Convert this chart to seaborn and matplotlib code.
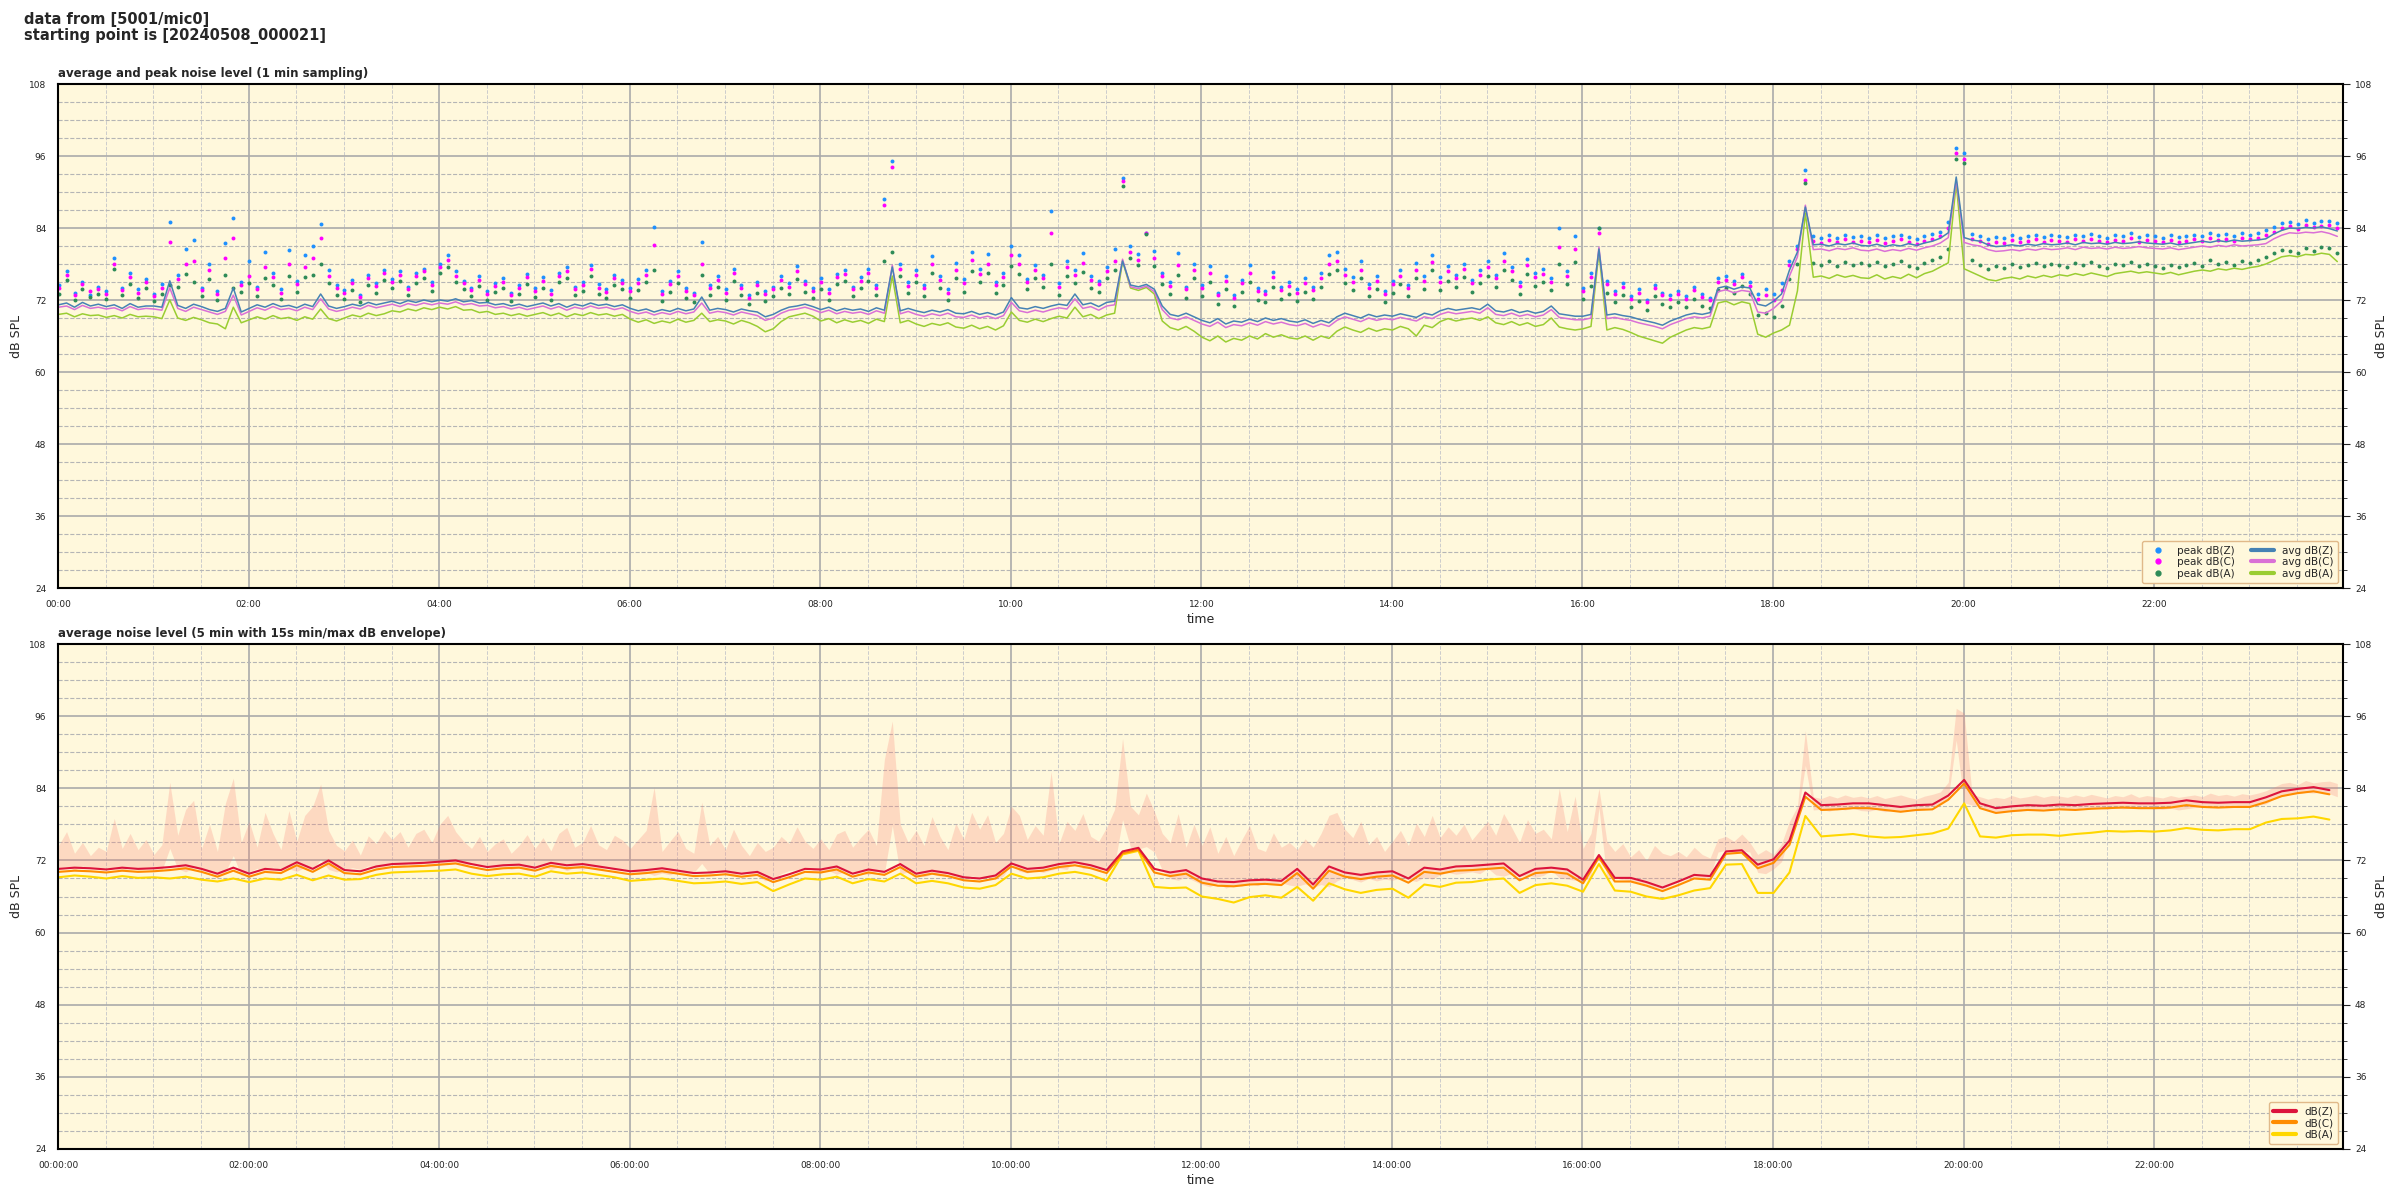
import pandas as pd
import matplotlib.pyplot as plt
import matplotlib.dates as mdates
from matplotlib.ticker import MultipleLocator
from matplotlib.lines import Line2D
import seaborn as sns

# --- 1 min chart, read every 5 minutes (12 values per hour) ---
avg_z = [
    71.2, 71.5, 70.8, 71.6, 71.0, 71.3, 70.9, 71.2, 70.6, 71.4, 70.8, 71.0,
    71.0, 70.8, 75.2, 71.1, 70.6, 71.3, 70.9, 70.4, 70.1, 70.6, 74.0, 70.0,
    70.6, 71.2, 70.8, 71.4, 70.9, 71.1, 70.7, 71.3, 70.9, 73.0, 71.0, 70.6,
    70.9, 71.3, 71.0, 71.6, 71.2, 71.5, 71.8, 71.4, 71.9, 71.6, 72.0, 71.7,
    72.0, 71.8, 72.2, 71.7, 71.9, 71.5, 71.6, 71.2, 71.4, 71.0, 71.3, 70.9,
    71.2, 71.5, 71.0, 71.4, 70.8, 71.3, 71.0, 71.5, 71.1, 71.3, 70.9, 71.2,
    70.6, 70.2, 70.5, 70.0, 70.4, 70.1, 70.6, 70.2, 70.5, 72.5, 70.3, 70.6,
    70.4, 70.0, 70.5, 70.2, 70.0, 69.2, 69.6, 70.3, 70.8, 71.0, 71.3, 70.9,
    70.4, 70.8, 70.2, 70.6, 70.3, 70.5, 70.1, 70.7, 70.3, 77.5, 70.2, 70.6,
    70.2, 69.9, 70.3, 70.0, 70.4, 69.8, 69.7, 70.1, 69.6, 69.9, 69.5, 70.0,
    72.4, 70.7, 70.5, 70.9, 70.6, 71.0, 71.3, 71.1, 73.0, 71.2, 71.5, 70.9,
    71.6, 71.8, 78.5, 74.5, 74.2, 74.6, 73.8, 71.0, 69.6, 69.3, 69.8, 69.2,
    68.6, 68.2, 68.9, 68.0, 68.5, 68.3, 68.8, 68.4, 69.0, 68.6, 68.9, 68.5,
    68.3, 68.7, 68.1, 68.6, 68.2, 69.2, 69.8, 69.4, 69.0, 69.6, 69.2, 69.5,
    69.3, 69.7, 69.4, 69.1, 69.8, 69.5, 70.2, 70.6, 70.3, 70.5, 70.7, 70.4,
    71.3, 70.2, 70.0, 70.4, 69.9, 70.2, 69.8, 70.1, 71.0, 69.7, 69.5, 69.3,
    69.3, 69.6, 80.5, 69.5, 69.7, 69.4, 69.2, 68.8, 68.5, 68.2, 67.8, 68.5,
    69.0, 69.5, 69.8, 69.6, 69.9, 74.0, 74.3, 73.8, 74.2, 74.0, 71.3, 71.0,
    71.8, 73.0, 77.0, 80.0, 87.5, 81.2, 81.3, 81.0, 81.4, 81.2, 81.5, 81.1,
    81.0, 81.3, 80.9, 81.2, 81.0, 81.4, 81.1, 81.5, 81.8, 82.3, 83.2, 92.5,
    82.4, 82.0, 81.8, 81.2, 80.9, 81.0, 81.2, 81.0, 81.3, 81.1, 81.4, 81.2,
    81.3, 81.5, 81.2, 81.6, 81.4, 81.5, 81.3, 81.6, 81.4, 81.5, 81.7, 81.5,
    81.4, 81.3, 81.5, 81.2, 81.4, 81.6, 81.8, 81.6, 81.9, 81.7, 82.0, 81.8,
    81.9, 82.0, 82.2, 83.0, 83.6, 84.0, 83.9, 84.1, 84.0, 84.2, 83.9, 83.5,
]
avg_c = [
    70.8, 71.0, 70.4, 71.1, 70.6, 70.8, 70.5, 70.7, 70.2, 70.9, 70.4, 70.6,
    70.5, 70.3, 74.0, 70.6, 70.1, 70.8, 70.4, 70.0, 69.6, 70.1, 72.8, 69.5,
    70.1, 70.7, 70.3, 70.9, 70.4, 70.6, 70.2, 70.8, 70.4, 72.2, 70.5, 70.1,
    70.4, 70.8, 70.5, 71.1, 70.7, 71.0, 71.3, 70.9, 71.4, 71.1, 71.5, 71.2,
    71.5, 71.3, 71.7, 71.2, 71.4, 71.0, 71.1, 70.7, 70.9, 70.5, 70.8, 70.4,
    70.7, 71.0, 70.5, 70.9, 70.3, 70.8, 70.5, 71.0, 70.6, 70.8, 70.4, 70.7,
    70.1, 69.7, 70.0, 69.5, 69.9, 69.6, 70.1, 69.7, 70.0, 71.5, 69.8, 70.1,
    69.9, 69.5, 70.0, 69.7, 69.4, 68.6, 69.0, 69.8, 70.3, 70.5, 70.8, 70.4,
    69.9, 70.3, 69.7, 70.1, 69.8, 70.0, 69.6, 70.2, 69.8, 77.8, 69.7, 70.1,
    69.6, 69.3, 69.7, 69.4, 69.8, 69.2, 69.1, 69.5, 69.0, 69.3, 68.9, 69.4,
    71.6, 70.2, 69.9, 70.3, 70.0, 70.4, 70.7, 70.5, 72.2, 70.6, 70.9, 70.3,
    71.0, 71.2, 78.8, 74.2, 73.9, 74.3, 73.4, 70.4, 69.0, 68.7, 69.2, 68.6,
    68.0, 67.6, 68.3, 67.4, 67.9, 67.7, 68.2, 67.8, 68.4, 68.0, 68.3, 67.9,
    67.7, 68.1, 67.5, 68.0, 67.6, 68.6, 69.2, 68.8, 68.4, 69.0, 68.6, 68.9,
    68.7, 69.1, 68.8, 68.5, 69.2, 68.9, 69.6, 70.0, 69.7, 69.9, 70.1, 69.8,
    70.7, 69.6, 69.4, 69.8, 69.3, 69.6, 69.2, 69.5, 70.4, 69.1, 68.9, 68.7,
    68.7, 69.0, 80.8, 68.9, 69.1, 68.8, 68.6, 68.2, 67.9, 67.6, 67.2, 67.9,
    68.4, 68.9, 69.2, 69.0, 69.3, 73.4, 73.7, 73.2, 73.6, 73.4, 70.0, 69.8,
    70.6, 71.8, 76.0, 79.2, 87.8, 80.4, 80.5, 80.2, 80.6, 80.4, 80.7, 80.3,
    80.2, 80.5, 80.1, 80.4, 80.2, 80.6, 80.3, 80.7, 81.0, 81.5, 82.4, 92.0,
    81.6, 81.2, 81.0, 80.4, 80.1, 80.2, 80.4, 80.2, 80.5, 80.3, 80.6, 80.4,
    80.5, 80.7, 80.4, 80.8, 80.6, 80.7, 80.5, 80.8, 80.6, 80.7, 80.9, 80.7,
    80.6, 80.5, 80.7, 80.4, 80.6, 80.8, 81.0, 80.8, 81.1, 80.9, 81.2, 81.0,
    81.1, 81.2, 81.4, 82.2, 82.8, 83.2, 83.1, 83.3, 83.2, 83.4, 83.1, 82.6,
]
avg_a = [
    69.6, 69.8, 69.2, 69.7, 69.4, 69.5, 69.1, 69.4, 69.0, 69.6, 69.2, 69.3,
    69.2, 68.9, 72.0, 69.0, 68.6, 69.1, 68.7, 68.2, 68.0, 67.2, 70.8, 68.2,
    68.7, 69.2, 68.8, 69.4, 68.9, 69.1, 68.6, 69.2, 68.8, 70.5, 68.9, 68.5,
    69.0, 69.5, 69.2, 69.8, 69.4, 69.7, 70.2, 70.0, 70.5, 70.2, 70.7, 70.4,
    70.8, 70.5, 70.9, 70.3, 70.4, 69.9, 70.1, 69.6, 69.8, 69.4, 69.7, 69.3,
    69.6, 69.9, 69.4, 69.8, 69.2, 69.7, 69.4, 69.9, 69.5, 69.7, 69.3, 69.6,
    68.8, 68.3, 68.7, 68.1, 68.5, 68.2, 68.8, 68.3, 68.6, 69.8, 68.4, 68.7,
    68.5, 68.0, 68.6, 68.2, 67.6, 66.7, 67.2, 68.4, 69.2, 69.5, 69.8, 69.3,
    68.5, 68.9, 68.2, 68.7, 68.3, 68.6, 68.1, 68.8, 68.4, 76.0, 68.2, 68.6,
    68.0, 67.6, 68.1, 67.8, 68.2, 67.5, 67.3, 67.8, 67.2, 67.6, 67.0, 67.7,
    70.0, 68.6, 68.3, 68.8, 68.4, 68.9, 69.3, 69.0, 70.8, 69.2, 69.6, 68.9,
    69.5, 69.8, 78.5, 74.0, 73.6, 74.1, 73.0, 68.5, 67.4, 67.0, 67.6, 66.8,
    65.8, 65.2, 66.0, 65.0, 65.6, 65.3, 66.0, 65.5, 66.4, 65.8, 66.2, 65.7,
    65.5, 66.0, 65.3, 66.0, 65.6, 66.8, 67.5, 67.0, 66.6, 67.3, 66.8, 67.2,
    67.0, 67.6, 67.2, 66.0, 67.8, 67.4, 68.4, 68.9, 68.5, 68.8, 69.0, 68.6,
    69.2, 68.2, 67.9, 68.4, 67.8, 68.2, 67.6, 67.9, 69.0, 67.5, 67.2, 67.0,
    67.2, 67.6, 80.0, 67.0, 67.4, 67.1, 66.6, 66.0, 65.6, 65.2, 64.8, 65.8,
    66.4, 67.0, 67.4, 67.2, 67.5, 71.5, 71.8, 71.2, 71.7, 71.4, 66.3, 65.8,
    66.5, 67.0, 67.8, 73.5, 86.5, 75.8, 76.0, 75.6, 76.2, 75.8, 76.1, 75.7,
    75.6, 76.2, 75.5, 75.9, 75.6, 76.3, 75.7, 76.4, 76.8, 77.5, 78.2, 91.5,
    77.2, 76.6, 76.0, 75.4, 75.2, 75.6, 75.8, 75.5, 76.0, 75.7, 76.1, 75.8,
    76.2, 76.0, 76.4, 76.1, 76.5, 76.2, 75.9, 76.4, 76.6, 76.8, 76.5, 76.7,
    76.5, 76.3, 76.6, 76.2, 76.5, 76.8, 77.0, 76.8, 77.2, 77.0, 77.3, 77.1,
    77.4, 77.6, 78.0, 78.6, 79.2, 79.4, 79.2, 79.6, 79.5, 79.8, 79.6, 78.4,
]
peak_z = [
    74.5, 76.8, 73.2, 75.0, 72.8, 74.2, 73.5, 79.0, 74.0, 76.5, 73.8, 75.5,
    73.0, 74.6, 85.0, 76.2, 80.5, 82.0, 74.0, 78.0, 73.5, 81.5, 85.7, 75.0,
    78.5, 74.2, 80.0, 76.5, 73.8, 80.3, 75.2, 79.5, 81.0, 84.7, 77.0, 74.5,
    73.6, 75.4, 72.9, 76.1, 74.8, 77.0, 75.5, 76.8, 74.2, 76.5, 77.2, 75.0,
    78.0, 79.5, 76.8, 75.2, 74.0, 76.0, 73.5, 74.8, 75.6, 73.2, 74.5, 76.3,
    74.0, 75.8, 73.6, 76.5, 77.5, 74.2, 75.0, 77.8, 74.6, 73.8, 76.2, 75.4,
    74.0, 75.5, 77.0, 84.2, 73.5, 75.2, 76.8, 74.0, 73.2, 81.7, 74.5, 76.0,
    73.8, 77.2, 74.5, 72.8, 75.0, 73.5, 74.2, 76.0, 74.8, 77.6, 75.2, 74.0,
    75.6, 73.8, 76.4, 77.0, 74.2, 75.8, 77.2, 74.5, 88.8, 95.2, 78.0, 75.0,
    77.0, 74.5, 79.3, 76.0, 73.8, 78.2, 75.5, 80.0, 77.2, 79.6, 75.0, 76.5,
    81.0, 79.5, 75.5, 77.8, 76.2, 86.8, 74.8, 78.5, 77.0, 79.8, 76.0, 75.2,
    77.5, 80.5, 92.3, 81.0, 79.6, 83.2, 80.2, 76.5, 75.0, 79.8, 74.2, 78.0,
    74.5, 77.6, 73.2, 76.0, 72.8, 75.4, 77.8, 74.0, 73.5, 76.6, 74.2, 75.0,
    73.8, 75.6, 74.2, 76.5, 79.5, 80.0, 77.2, 75.8, 78.5, 74.6, 76.0, 73.5,
    75.2, 77.0, 74.5, 78.2, 76.0, 79.5, 75.8, 77.6, 76.2, 78.0, 75.4, 77.0,
    78.5, 76.2, 79.8, 77.5, 75.0, 78.8, 76.5, 77.2, 75.6, 84.0, 76.8, 82.7,
    74.0, 76.5, 84.0, 75.2, 73.5, 74.8, 72.6, 73.8, 72.0, 74.5, 73.2, 72.8,
    73.5, 72.6, 74.2, 73.0, 72.4, 75.6, 76.0, 75.2, 76.4, 75.0, 73.0, 73.8,
    73.0, 74.8, 78.5, 81.0, 93.6, 82.6, 82.3, 82.8, 82.4, 82.9, 82.5, 82.7,
    82.4, 82.8, 82.3, 82.6, 82.9, 82.5, 82.2, 82.7, 83.0, 83.4, 85.0, 97.3,
    96.5, 83.0, 82.6, 82.2, 82.5, 82.3, 82.8, 82.4, 82.6, 82.9, 82.5, 82.8,
    82.7, 82.5, 82.9, 82.6, 83.0, 82.7, 82.4, 82.8, 82.6, 83.1, 82.5, 82.8,
    82.6, 82.4, 82.8, 82.5, 82.7, 82.9, 82.6, 83.2, 82.8, 83.0, 82.7, 83.1,
    82.9, 83.2, 83.6, 84.2, 84.8, 85.0, 84.6, 85.3, 84.9, 85.1, 85.2, 84.8,
]
peak_c = [
    74.0, 76.2, 72.8, 74.6, 73.5, 73.8, 73.0, 78.0, 73.6, 75.8, 73.2, 75.0,
    72.6, 74.0, 81.7, 75.5, 78.0, 78.5, 73.6, 77.0, 73.0, 79.0, 82.3, 74.5,
    76.0, 73.8, 77.5, 75.8, 73.2, 78.0, 74.6, 77.5, 79.0, 82.3, 76.0, 74.0,
    73.2, 74.8, 72.5, 75.6, 74.3, 76.5, 75.0, 76.2, 73.8, 76.0, 76.8, 74.5,
    77.5, 78.6, 76.0, 74.8, 73.6, 75.4, 73.0, 74.4, 75.0, 72.8, 74.0, 75.8,
    73.5, 75.2, 73.0, 76.0, 76.8, 73.8, 74.5, 77.2, 74.0, 73.4, 75.6, 74.8,
    73.5, 74.8, 76.2, 81.2, 73.0, 74.6, 76.0, 73.5, 72.8, 78.0, 74.0, 75.4,
    73.2, 76.5, 74.0, 72.4, 74.5, 73.0, 73.8, 75.4, 74.2, 76.8, 74.6, 73.5,
    75.0, 73.2, 75.8, 76.4, 73.8, 75.2, 76.5, 74.0, 87.8, 94.2, 77.2, 74.4,
    76.2, 74.0, 78.0, 75.4, 73.2, 77.0, 74.8, 78.6, 76.4, 78.0, 74.5, 75.8,
    79.5, 78.0, 75.0, 77.0, 75.6, 83.2, 74.2, 77.5, 76.2, 78.2, 75.4, 74.6,
    76.8, 78.5, 91.8, 80.0, 78.6, 83.2, 79.0, 76.0, 74.4, 77.8, 73.8, 77.0,
    74.0, 76.5, 72.8, 75.2, 72.4, 74.8, 76.5, 73.5, 73.0, 75.8, 73.6, 74.4,
    73.2, 74.8, 73.6, 75.6, 78.0, 78.5, 76.2, 75.0, 77.0, 74.0, 75.2, 73.0,
    74.6, 76.0, 74.0, 77.0, 75.2, 78.4, 75.0, 76.8, 75.6, 77.2, 74.8, 76.2,
    77.5, 75.6, 78.5, 76.8, 74.4, 77.8, 75.8, 76.4, 75.0, 80.8, 76.0, 80.5,
    73.5, 75.8, 83.2, 74.6, 73.0, 74.2, 72.2, 73.2, 71.6, 74.0, 72.8, 72.2,
    73.0, 72.2, 73.6, 72.5, 72.0, 75.0, 75.4, 74.6, 75.8, 74.4, 72.2, 72.8,
    72.0, 73.6, 77.8, 80.5, 92.0, 81.8, 81.5, 82.0, 81.6, 82.1, 81.7, 81.9,
    81.6, 82.0, 81.5, 81.8, 82.1, 81.7, 81.4, 81.9, 82.2, 82.6, 84.0, 96.5,
    95.5, 82.2, 81.8, 81.4, 81.7, 81.5, 82.0, 81.6, 81.8, 82.1, 81.7, 82.0,
    81.9, 81.7, 82.1, 81.8, 82.2, 81.9, 81.6, 82.0, 81.8, 82.3, 81.7, 82.0,
    81.8, 81.6, 82.0, 81.7, 81.9, 82.1, 81.8, 82.4, 82.0, 82.2, 81.9, 82.3,
    82.1, 82.4, 82.8, 83.4, 84.0, 84.3, 83.9, 84.5, 84.1, 84.4, 84.5, 84.0,
]
peak_a = [
    73.0, 75.4, 72.0, 73.8, 72.5, 73.0, 72.2, 77.2, 72.8, 74.6, 72.4, 74.0,
    71.8, 73.0, 74.5, 74.2, 76.4, 75.0, 72.6, 75.5, 72.0, 76.2, 74.0, 73.4,
    74.8, 72.6, 75.6, 74.5, 72.2, 76.0, 73.4, 75.8, 76.2, 78.0, 74.8, 72.8,
    72.2, 73.6, 71.6, 74.5, 73.2, 75.4, 74.0, 75.2, 72.8, 74.8, 75.6, 73.5,
    76.5, 77.5, 75.0, 73.8, 72.6, 74.4, 72.0, 73.4, 74.0, 71.8, 73.0, 74.6,
    72.5, 74.0, 72.0, 75.0, 75.6, 72.8, 73.5, 76.0, 73.0, 72.4, 74.5, 73.8,
    72.4, 73.6, 75.0, 77.0, 71.8, 73.4, 74.8, 72.4, 71.6, 76.2, 72.8, 74.2,
    72.0, 75.2, 72.8, 71.4, 73.2, 71.8, 72.6, 74.0, 73.0, 75.5, 73.4, 72.4,
    73.8, 72.0, 74.6, 75.2, 72.6, 74.0, 75.2, 72.8, 78.5, 80.0, 76.0, 73.2,
    75.0, 72.6, 76.5, 74.0, 72.0, 75.6, 73.4, 76.8, 75.0, 76.5, 73.2, 74.5,
    77.6, 76.4, 73.8, 75.6, 74.2, 78.0, 72.8, 76.0, 74.8, 76.6, 74.0, 73.4,
    75.6, 77.0, 91.0, 79.0, 77.8, 83.0, 77.6, 74.6, 73.0, 76.2, 72.4, 75.6,
    72.6, 75.0, 71.4, 73.8, 71.0, 73.4, 75.0, 72.0, 71.6, 74.2, 72.2, 73.0,
    71.8, 73.4, 72.2, 74.2, 76.4, 77.0, 74.8, 73.6, 75.6, 72.6, 73.8, 71.6,
    73.2, 74.6, 72.6, 75.6, 73.8, 77.0, 73.6, 75.2, 74.2, 75.8, 73.4, 74.8,
    76.0, 74.2, 77.0, 75.4, 73.0, 76.4, 74.4, 75.0, 73.6, 78.0, 74.6, 78.4,
    72.2, 74.4, 84.0, 73.2, 71.6, 72.8, 70.8, 71.8, 70.4, 72.6, 71.4, 70.8,
    71.6, 70.8, 72.2, 71.0, 70.6, 73.6, 74.0, 73.2, 74.4, 73.0, 69.5, 69.8,
    69.2, 71.0, 75.5, 78.0, 91.5, 78.2, 77.8, 78.5, 77.6, 78.3, 77.9, 78.1,
    77.8, 78.4, 77.6, 78.0, 78.5, 77.7, 77.4, 78.2, 78.6, 79.2, 80.5, 95.5,
    94.8, 78.6, 77.8, 77.2, 77.6, 77.4, 78.0, 77.5, 77.8, 78.2, 77.6, 78.0,
    77.9, 77.5, 78.1, 77.8, 78.3, 77.7, 77.4, 78.0, 77.8, 78.4, 77.6, 78.0,
    77.6, 77.4, 77.9, 77.5, 77.8, 78.2, 77.6, 78.6, 78.0, 78.4, 77.8, 78.5,
    78.2, 78.6, 79.2, 79.8, 80.4, 80.2, 79.8, 80.6, 80.2, 80.8, 80.6, 79.8,
]

# --- 5 min average chart, read every 10 minutes (6 values per hour) ---
lvl_z = [
    70.6, 70.8, 70.7, 70.5, 70.8, 70.6,
    70.7, 70.9, 71.2, 70.6, 69.8, 70.8,
    69.8, 70.6, 70.4, 71.7, 70.6, 72.0,
    70.4, 70.2, 71.0, 71.4, 71.5, 71.6,
    71.8, 72.0, 71.4, 70.9, 71.2, 71.3,
    70.8, 71.6, 71.2, 71.4, 71.0, 70.6,
    70.2, 70.4, 70.7, 70.3, 69.9, 70.0,
    70.2, 69.8, 70.1, 68.9, 69.7, 70.6,
    70.5, 71.0, 69.8, 70.5, 70.1, 71.4,
    69.8, 70.3, 69.9, 69.2, 69.0, 69.5,
    71.5, 70.6, 70.8, 71.4, 71.7, 71.2,
    70.4, 73.5, 74.1, 70.6, 70.0, 70.4,
    69.0, 68.5, 68.4, 68.7, 68.8, 68.6,
    70.6, 68.0, 71.0, 70.0, 69.6, 70.0,
    70.2, 69.0, 70.8, 70.5, 71.0, 71.1,
    71.3, 71.5, 69.4, 70.6, 70.8, 70.5,
    68.8, 72.9, 69.1, 69.1, 68.4, 67.5,
    68.5, 69.6, 69.4, 73.5, 73.7, 71.3,
    72.2, 75.3, 83.3, 81.2, 81.3, 81.5,
    81.5, 81.2, 80.9, 81.2, 81.3, 82.8,
    85.4, 81.5, 80.7, 81.0, 81.2, 81.1,
    81.3, 81.2, 81.4, 81.5, 81.6, 81.5,
    81.5, 81.6, 82.0, 81.7, 81.6, 81.7,
    81.7, 82.5, 83.5, 83.9, 84.2, 83.7,
]
lvl_c = [
    70.1, 70.3, 70.2, 70.0, 70.3, 70.1,
    70.2, 70.4, 70.7, 70.1, 69.3, 70.3,
    69.3, 70.1, 69.9, 71.2, 70.1, 71.5,
    69.9, 69.7, 70.5, 70.9, 71.0, 71.1,
    71.3, 71.5, 70.9, 70.4, 70.7, 70.8,
    70.3, 71.1, 70.7, 70.9, 70.5, 70.1,
    69.7, 69.9, 70.2, 69.8, 69.4, 69.5,
    69.7, 69.3, 69.6, 68.4, 69.2, 70.1,
    70.0, 70.5, 69.3, 70.0, 69.6, 70.9,
    69.3, 69.8, 69.4, 68.7, 68.5, 69.0,
    71.0, 70.1, 70.3, 70.9, 71.2, 70.7,
    69.9, 73.2, 73.8, 70.0, 69.4, 69.8,
    68.3, 67.8, 67.7, 68.0, 68.1, 67.9,
    69.9, 67.3, 70.3, 69.3, 68.9, 69.3,
    69.5, 68.3, 70.1, 69.8, 70.3, 70.4,
    70.6, 70.8, 68.7, 69.9, 70.1, 69.8,
    68.2, 72.5, 68.5, 68.5, 67.8, 66.9,
    67.9, 69.0, 68.8, 73.1, 73.3, 70.7,
    71.6, 74.6, 82.6, 80.4, 80.5, 80.7,
    80.7, 80.4, 80.1, 80.4, 80.5, 82.1,
    84.8, 80.7, 79.9, 80.2, 80.4, 80.3,
    80.5, 80.4, 80.6, 80.7, 80.8, 80.7,
    80.7, 80.8, 81.2, 80.9, 80.8, 80.9,
    80.9, 81.7, 82.7, 83.2, 83.5, 83.0,
]
lvl_a = [
    69.2, 69.5, 69.3, 69.0, 69.4, 69.1,
    69.2, 69.0, 69.3, 68.8, 68.5, 69.0,
    68.4, 69.0, 68.8, 69.6, 68.7, 69.5,
    68.8, 68.9, 69.6, 70.0, 70.1, 70.2,
    70.3, 70.5, 69.8, 69.4, 69.7, 69.8,
    69.3, 70.2, 69.8, 70.0, 69.6, 69.2,
    68.6, 68.8, 69.0, 68.6, 68.2, 68.3,
    68.5, 68.1, 68.4, 66.9, 68.0, 69.0,
    68.8, 69.3, 68.2, 68.9, 68.5, 69.8,
    68.2, 68.6, 68.2, 67.5, 67.3, 67.9,
    69.8, 69.0, 69.2, 69.8, 70.1, 69.6,
    68.6, 73.0, 73.6, 67.6, 67.4, 67.5,
    66.0, 65.6, 65.0, 65.9, 66.2, 65.8,
    67.6, 65.3, 68.2, 67.2, 66.6, 67.1,
    67.3, 65.8, 68.0, 67.6, 68.3, 68.4,
    68.8, 69.0, 66.6, 67.9, 68.2, 67.8,
    66.8, 71.4, 67.0, 66.8, 66.0, 65.6,
    66.2, 67.0, 67.4, 71.3, 71.4, 66.6,
    66.6, 70.0, 79.4, 76.0, 76.2, 76.4,
    76.0, 75.8, 75.9, 76.2, 76.5, 77.3,
    81.5, 76.0, 75.8, 76.2, 76.3, 76.3,
    76.1, 76.4, 76.6, 76.9, 76.8, 76.9,
    76.8, 77.0, 77.4, 77.1, 77.0, 77.2,
    77.2, 78.3, 78.9, 79.0, 79.3, 78.8,
]

sns.set_style("white")
plt.rcParams['font.family'] = ['DejaVu Sans']

t_start = pd.Timestamp('2024-05-08 00:00:21')
df1 = pd.DataFrame({
    'time': pd.date_range(t_start, periods=len(avg_z), freq='5min'),
    'avg_z': avg_z, 'avg_c': avg_c, 'avg_a': avg_a,
    'peak_z': peak_z, 'peak_c': peak_c, 'peak_a': peak_a,
})
df2 = pd.DataFrame({
    'time': pd.date_range(t_start, periods=len(lvl_z), freq='10min'),
    'z': lvl_z, 'c': lvl_c, 'a': lvl_a,
})

bg = '#fff8dc'
x0 = pd.Timestamp('2024-05-08 00:00:00')
x1 = pd.Timestamp('2024-05-08 23:59:00')

fig = plt.figure(figsize=(24, 12), dpi=100)
ax1 = fig.add_axes([0.0242, 0.51, 0.9521, 0.42])
ax2 = fig.add_axes([0.0242, 0.0425, 0.9521, 0.4208])


def style_axis(ax, fmt, title):
    ax.set_facecolor(bg)
    ax.set_xlim(x0, x1)
    ax.set_ylim(24, 108)
    ax.yaxis.set_major_locator(MultipleLocator(12))
    ax.yaxis.set_minor_locator(MultipleLocator(3))
    ax.xaxis.set_major_locator(mdates.HourLocator(byhour=range(0, 24, 2)))
    ax.xaxis.set_minor_locator(mdates.MinuteLocator(byminute=[0, 30]))
    ax.xaxis.set_major_formatter(mdates.DateFormatter(fmt))
    ax.grid(which='major', color='#aaaaaa', lw=1.2)
    ax.grid(which='minor', axis='y', color='#b5b5b5', ls='--', lw=0.8)
    ax.grid(which='minor', axis='x', color='#cccccc', ls='--', lw=0.7)
    ax.set_axisbelow(True)
    ax.tick_params(which='both', direction='out', labelsize=6.5, colors='#222222',
                   right=True, labelright=True)
    ax.tick_params(which='major', length=5)
    ax.tick_params(which='minor', length=3)
    for sp in ax.spines.values():
        sp.set_color('black')
        sp.set_linewidth(1.5)
    ax.set_ylabel('dB SPL', fontsize=9)
    ax.set_xlabel('time', fontsize=9, labelpad=3)
    ax.set_title(title, loc='left', fontweight='bold', fontsize=8.5, pad=5)
    # right side label
    ax.text(1.017, 0.5, 'dB SPL', transform=ax.transAxes, rotation=90,
            ha='center', va='center', fontsize=9)


# --- top: 1 min average and peak ---
sns.scatterplot(data=df1, x='time', y='peak_z', ax=ax1, color='dodgerblue', s=8, linewidth=0)
sns.scatterplot(data=df1, x='time', y='peak_c', ax=ax1, color='magenta', s=8, linewidth=0)
sns.scatterplot(data=df1, x='time', y='peak_a', ax=ax1, color='seagreen', s=8, linewidth=0)
sns.lineplot(data=df1, x='time', y='avg_a', ax=ax1, color='yellowgreen', lw=1.1, estimator=None)
sns.lineplot(data=df1, x='time', y='avg_c', ax=ax1, color='orchid', lw=1.1, estimator=None)
sns.lineplot(data=df1, x='time', y='avg_z', ax=ax1, color='steelblue', lw=1.1, estimator=None)
style_axis(ax1, '%H:%M', 'average and peak noise level (1 min sampling)')

handles1 = [
    Line2D([], [], ls='', marker='o', ms=3.5, color='dodgerblue'),
    Line2D([], [], ls='', marker='o', ms=3.5, color='magenta'),
    Line2D([], [], ls='', marker='o', ms=3.5, color='seagreen'),
    Line2D([], [], lw=3, color='steelblue'),
    Line2D([], [], lw=3, color='orchid'),
    Line2D([], [], lw=3, color='yellowgreen'),
]
labels1 = ['peak dB(Z)', 'peak dB(C)', 'peak dB(A)', 'avg dB(Z)', 'avg dB(C)', 'avg dB(A)']
ax1.legend(handles1, labels1, loc='lower right', ncol=2, fontsize=7.5,
           facecolor=bg, edgecolor='#e0b98a', framealpha=1, handlelength=2.2,
           labelspacing=0.15, columnspacing=1.5, borderpad=0.4)

# --- bottom: 5 min average with envelope ---
ax2.fill_between(df1['time'], df1['avg_c'], df1['peak_z'], color='salmon', alpha=0.25, lw=0)
sns.lineplot(data=df2, x='time', y='a', ax=ax2, color='gold', lw=1.5, estimator=None)
sns.lineplot(data=df2, x='time', y='c', ax=ax2, color='darkorange', lw=1.5, estimator=None)
sns.lineplot(data=df2, x='time', y='z', ax=ax2, color='crimson', lw=1.5, estimator=None)
style_axis(ax2, '%H:%M:%S', 'average noise level (5 min with 15s min/max dB envelope)')

handles2 = [Line2D([], [], lw=3, color=c) for c in ['crimson', 'darkorange', 'gold']]
ax2.legend(handles2, ['dB(Z)', 'dB(C)', 'dB(A)'], loc='lower right', fontsize=7.5,
           facecolor=bg, edgecolor='#e0b98a', framealpha=1, handlelength=2.2,
           labelspacing=0.15, borderpad=0.4)

fig.text(0.01, 0.99, 'data from [5001/mic0]\nstarting point is [20240508_000021]',
         ha='left', va='top', fontsize=10.5, fontweight='bold', linespacing=1.1)

fig.savefig('out.png', dpi=100)
